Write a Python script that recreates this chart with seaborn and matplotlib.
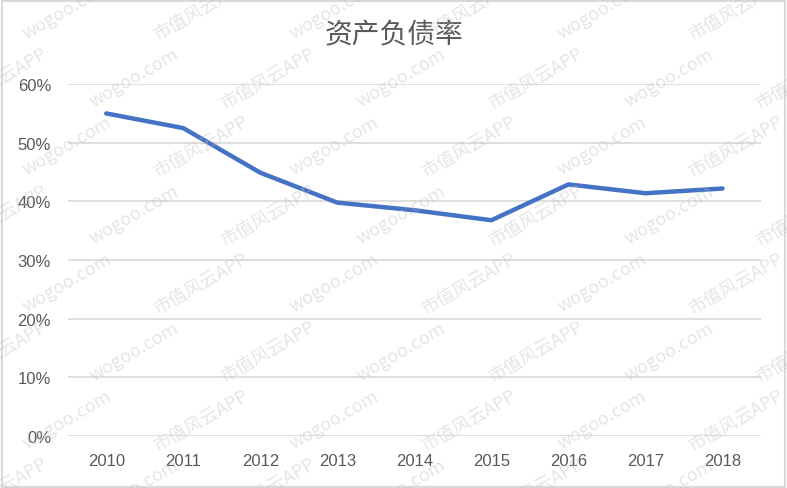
import matplotlib
matplotlib.use("Agg")
import matplotlib.pyplot as plt
import seaborn as sns
import pandas as pd
from matplotlib.patches import Rectangle

# 数据
years = ["2010", "2011", "2012", "2013", "2014", "2015", "2016", "2017", "2018"]
ratio = [55.0, 52.5, 44.9, 39.8, 38.5, 36.8, 42.9, 41.4, 42.2]
y_ticks = [0, 10, 20, 30, 40, 50, 60]
y_labels = ["0%", "10%", "20%", "30%", "40%", "50%", "60%"]
title = "资产负债率"

df = pd.DataFrame({"year": years, "ratio": ratio})

sns.set_style("white")
plt.rcParams['font.family'] = ['Noto Sans CJK SC', 'DejaVu Sans']

fig = plt.figure(figsize=(7.87, 4.89), dpi=100)
ax = fig.add_axes([0.086, 0.106, 0.881, 0.72])

sns.lineplot(data=df, x="year", y="ratio", ax=ax, color="#4472C4",
             linewidth=3.2, sort=False, zorder=3)

ax.set_xlim(-0.5, len(years) - 0.5)
ax.set_ylim(0, 60)
ax.set_yticks(y_ticks)
ax.set_yticklabels(y_labels)
ax.yaxis.grid(True, color="#D9D9D9", linewidth=1.2)
ax.set_xlabel("")
ax.set_ylabel("")
for s in ax.spines.values():
    s.set_visible(False)
ax.tick_params(axis="both", length=0, colors="#595959", labelsize=12)
ax.tick_params(axis="y", pad=12)
ax.tick_params(axis="x", pad=12)
for lab in ax.get_xticklabels() + ax.get_yticklabels():
    lab.set_family(['Liberation Sans', 'DejaVu Sans'])

fig.text(0.5, 0.928, title, ha="center", va="center", fontsize=20, color="#595959")

# 水印
marks = ["市值风云APP", "wogoo.com"]
for row in range(-1, 8):
    for col in range(-1, 8):
        xx = col * 0.17 + (row % 2) * 0.085
        yy = row * 0.14
        fig.text(xx, yy, marks[(row + col) % 2], rotation=30, fontsize=13,
                 color="#BFBFBF", alpha=0.4, ha="center", va="center", zorder=5)

# 外框
fig.patches.append(Rectangle((0.002, 0.003), 0.995, 0.993, transform=fig.transFigure,
                             fill=False, edgecolor="#D9D9D9", linewidth=1.5))

fig.savefig("out.png", dpi=100)
